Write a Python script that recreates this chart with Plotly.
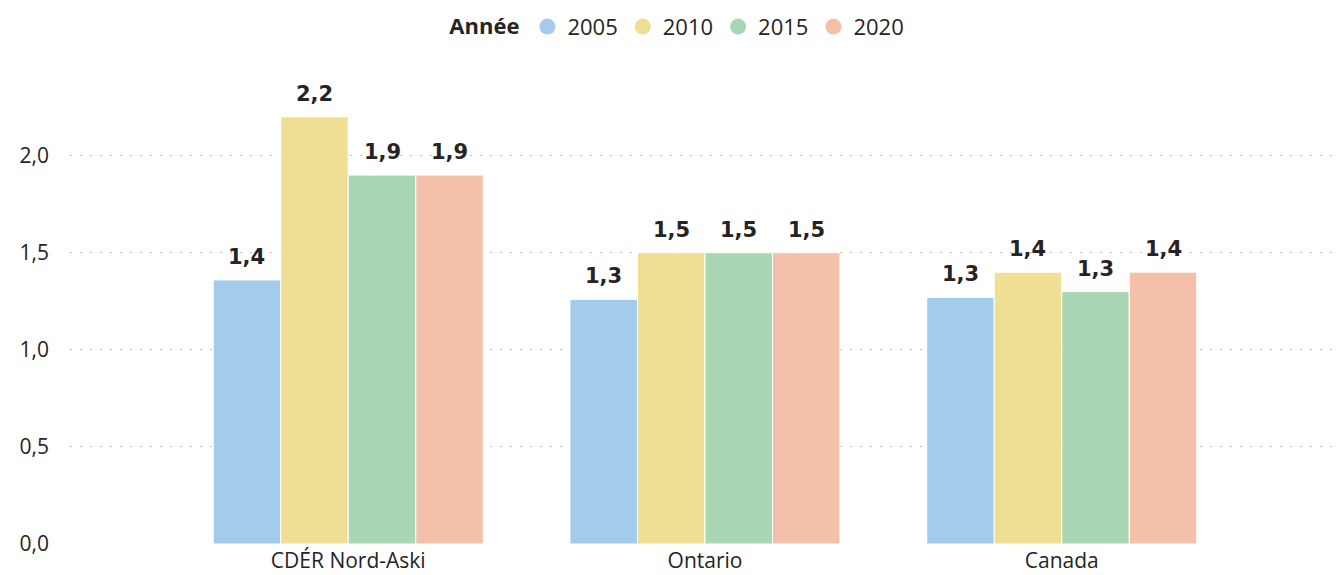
import plotly.graph_objects as go

regions = ["CDÉR Nord-Aski", "Ontario", "Canada"]
years = ["2005", "2010", "2015", "2020"]
values = {
    "2005": [1.36, 1.26, 1.27],
    "2010": [2.2, 1.5, 1.4],
    "2015": [1.9, 1.5, 1.3],
    "2020": [1.9, 1.5, 1.4],
}
colors = {
    "2005": "#A3CCEC",
    "2010": "#EEDF94",
    "2015": "#A9D7B3",
    "2020": "#F4C0AA",
}

BARGAP = 0.243
LABEL_FONT = "DejaVu Sans"
TEXT = "#252423"

fig = go.Figure()
n = len(years)
bar_w = (1 - BARGAP) / n
for i, yr in enumerate(years):
    fig.add_trace(go.Bar(
        x=list(range(len(regions))), y=values[yr], name=yr,
        marker=dict(color=colors[yr], line=dict(color="white", width=1)),
        showlegend=False,
    ))
    # circular legend swatches
    fig.add_trace(go.Scatter(
        x=[None], y=[None], mode="markers", name=yr,
        marker=dict(symbol="circle", size=20, color=colors[yr]),
    ))
    # value labels above each bar
    off = (i - (n - 1) / 2) * bar_w
    for j, v in enumerate(values[yr]):
        fig.add_annotation(
            x=j + off, y=v, text=f"<b>{v:.1f}</b>".replace(".", ","),
            showarrow=False, yanchor="bottom", yshift=9,
            font=dict(family=LABEL_FONT, size=21, color=TEXT),
        )

fig.update_layout(
    width=1343, height=575,
    margin=dict(l=70, r=3, t=78, b=31),
    paper_bgcolor="white", plot_bgcolor="white",
    separators=", ",
    barmode="group", bargap=BARGAP, bargroupgap=0,
    legend=dict(
        orientation="h", x=0.479, xanchor="center", y=0.99, yanchor="top",
        yref="container",
        title=dict(text="<b>Année</b>", font=dict(family="Open Sans", size=22, color=TEXT)),
        font=dict(family="Open Sans", size=22, color=TEXT),
        itemwidth=30, tracegroupgap=0,
    ),
    xaxis=dict(
        range=[-0.78, 2.78], showgrid=False, showline=False, ticks="",
        tickvals=list(range(len(regions))), ticktext=regions,
        tickfont=dict(family="Open Sans", size=21, color=TEXT),
        ticklabelstandoff=2, automargin=False,
    ),
    yaxis=dict(
        range=[0, 2.4], tickvals=[0, 0.5, 1.0, 1.5, 2.0], tickformat=".1f",
        showgrid=True, gridcolor="#BDBDBD", griddash="2px,8px", gridwidth=1,
        zeroline=False, showline=False, ticks="",
        tickfont=dict(family="Open Sans", size=21, color=TEXT),
        ticklabelstandoff=20, automargin=False,
    ),
)

fig.write_html("out.html")
